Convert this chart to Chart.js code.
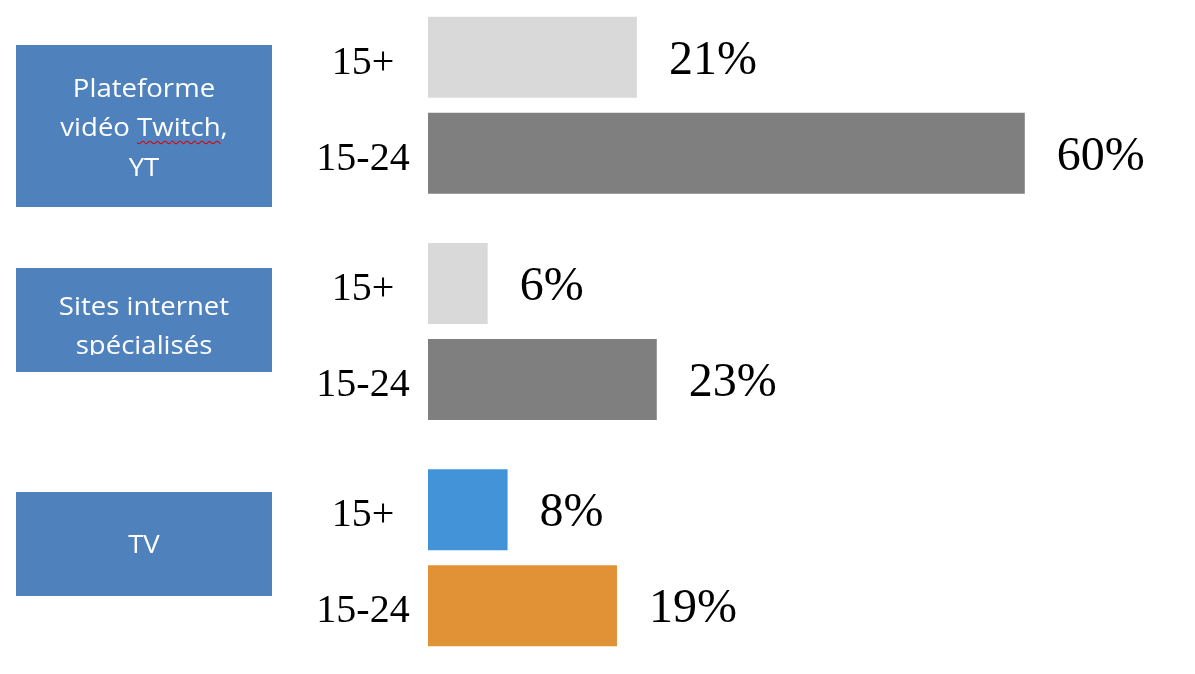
<!DOCTYPE html>
<html>
<head>
<meta charset="utf-8">
<script src="https://cdn.jsdelivr.net/npm/chart.js@4.4.1/dist/chart.umd.min.js"></script>
<style>
  html, body { margin: 0; padding: 0; background: #ffffff; overflow: hidden; width: 1195px; height: 674px; }
  #wrap { position: relative; width: 1195px; height: 674px; }
  #c { position: absolute; left: 0; top: -8px; }
  .box { position: absolute; left: 16px; width: 256px; background: #4f81bd; }
  .box .txt { position: absolute; left: 0; width: 100%; text-align: center; color: #ffffff;
              font-family: "Open Sans", "Liberation Sans", sans-serif; font-size: 26px; line-height: 39.5px;
              overflow: hidden; transform: scaleX(1.06); }
  .sq { text-decoration: underline wavy #e00000; text-decoration-thickness: 1px; text-underline-offset: 4px; }
</style>
</head>
<body>
<div id="wrap">
  <canvas id="c" width="1195" height="679"></canvas>
</div>
<script>
// ---- data ----
const categories = ['Plateforme vidéo Twitch, YT', 'Sites internet spécialisés', 'TV'];
const seriesLabels = ['15+', '15-24'];
const values15plus = [21, 6, 8];
const values15to24 = [60, 23, 19];
const colors15plus = ['#d9d9d9', '#d9d9d9', '#4393d8'];
const colors15to24 = ['#7f7f7f', '#7f7f7f', '#e29236'];

// ---- category boxes (layout) ----
const boxLayout = [
  { top: 45, height: 162, textTop: 22.5, textHeight: 130, html: 'Plateforme<br>vidéo <span class="sq">Twitch</span>,<br>YT' },
  { top: 268, height: 104, textTop: 17.5, textHeight: 69.5, html: 'Sites internet<br>spécialisés' },
  { top: 492, height: 104, textTop: 31.5, textHeight: 45, html: 'TV' }
];
const wrap = document.getElementById('wrap');
categories.forEach((cat, i) => {
  const b = boxLayout[i];
  const d = document.createElement('div');
  d.className = 'box';
  d.style.top = b.top + 'px';
  d.style.height = b.height + 'px';
  d.setAttribute('title', cat);
  const t = document.createElement('div');
  t.className = 'txt';
  t.style.top = b.textTop + 'px';
  t.style.height = b.textHeight + 'px';
  t.innerHTML = b.html;
  d.appendChild(t);
  wrap.appendChild(d);
});

// ---- labels plugin ----
const labelPlugin = {
  id: 'barLabels',
  afterDatasetsDraw(chart) {
    const ctx = chart.ctx;
    ctx.save();
    chart.data.datasets.forEach((ds, i) => {
      const meta = chart.getDatasetMeta(i);
      meta.data.forEach((el, j) => {
        // value label
        ctx.fillStyle = '#000000';
        ctx.font = '48px "Liberation Serif", "DejaVu Serif", serif';
        ctx.textAlign = 'left';
        ctx.textBaseline = 'middle';
        ctx.fillText(ds.data[j] + '%', el.x + 32, el.y + 4);
        // series (age) label
        ctx.font = '40px "Liberation Serif", "DejaVu Serif", serif';
        ctx.textAlign = 'center';
        ctx.fillText(seriesLabels[i], 363, el.y + 6);
      });
    });
    ctx.restore();
  }
};

new Chart(document.getElementById('c'), {
  type: 'bar',
  data: {
    labels: categories,
    datasets: [
      { label: seriesLabels[0], data: values15plus, backgroundColor: colors15plus, borderWidth: 0,
        categoryPercentage: 0.848, barPercentage: 0.844 },
      { label: seriesLabels[1], data: values15to24, backgroundColor: colors15to24, borderWidth: 0,
        categoryPercentage: 0.848, barPercentage: 0.844 }
    ]
  },
  options: {
    indexAxis: 'y',
    responsive: false,
    animation: false,
    layout: { padding: { left: 428, right: 21, top: 0, bottom: 0 } },
    plugins: { legend: { display: false }, tooltip: { enabled: false } },
    scales: {
      x: { display: false, min: 0, max: 75 },
      y: { display: false }
    }
  },
  plugins: [labelPlugin]
});
</script>
</body>
</html>
